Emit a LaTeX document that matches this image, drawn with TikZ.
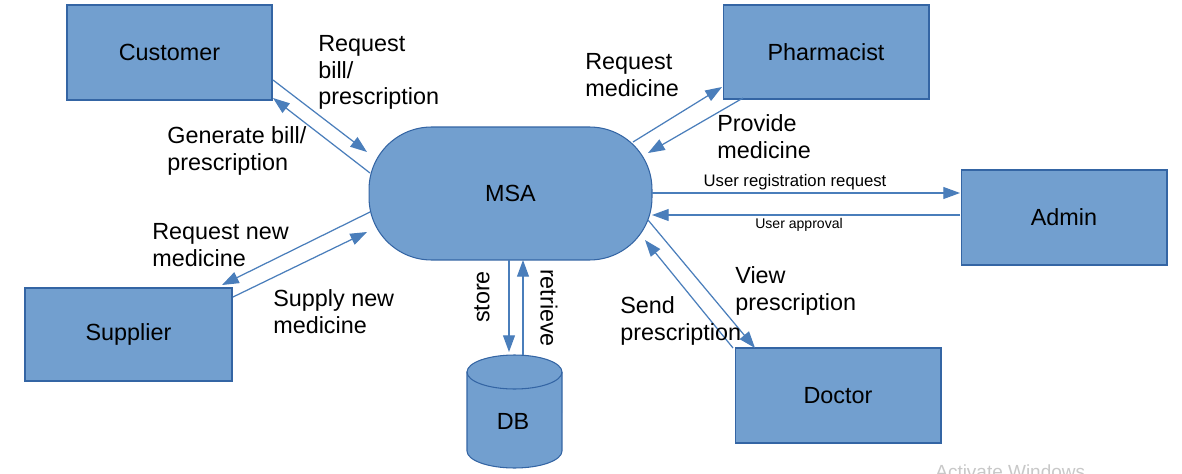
\documentclass[tikz,border=0pt]{standalone}
\usepackage{fontspec}
\setmainfont{Liberation Sans}
\usetikzlibrary{arrows.meta}
\definecolor{boxfill}{HTML}{729FCF}
\definecolor{boxline}{HTML}{3465A4}
\definecolor{arrowcol}{HTML}{4A7EBB}
\definecolor{wmgray}{HTML}{C8C8C8}
\tikzset{
  entity/.style={draw=boxline, fill=boxfill, line width=0.6pt, inner sep=0pt,
    font=\fontsize{13.3}{15.3}\selectfont},
  flow/.style={draw=arrowcol, line width=0.7pt, -{Triangle[length=9.5pt,width=6.8pt]}},
  lbl/.style={align=left, anchor=base west, inner sep=0pt,
    font=\fontsize{13.3}{15.3}\selectfont},
}
\begin{document}
\begin{tikzpicture}[x=0.02cm, y=-0.02cm]
\clip (0,0) rectangle (1182,473);
\fill[white] (0,0) rectangle (1182,473);

% entities
\node[entity, minimum width=4.10cm, minimum height=1.90cm] (cust) at (169.5,52.5) {Customer};
\node[entity, minimum width=4.12cm, minimum height=1.88cm] (pharm) at (826,52) {Pharmacist};
\node[entity, minimum width=4.12cm, minimum height=1.90cm] (admin) at (1064,217.5) {Admin};
\node[entity, minimum width=4.14cm, minimum height=1.86cm] (supp) at (128.5,334.5) {Supplier};
\node[entity, minimum width=4.12cm, minimum height=1.90cm] (doc) at (838,395.5) {Doctor};
\node[entity, minimum width=5.66cm, minimum height=2.66cm, rounded corners=1.25cm] (msa) at (510.5,193.5) {MSA};

% database cylinder
\path[draw=boxline, fill=boxfill, line width=0.6pt]
  (467,372) -- (467,451) arc[start angle=180, end angle=360, x radius=0.95cm, y radius=0.34cm]
  -- (562,372) arc[start angle=0, end angle=180, x radius=0.95cm, y radius=0.34cm] -- cycle;
\draw[boxline, line width=0.6pt] (467,372) arc[start angle=180, end angle=360, x radius=0.95cm, y radius=0.34cm];
\node[font=\fontsize{13.3}{15.3}\selectfont, inner sep=0pt] (db) at (513,421) {DB};

% connector end points
\coordinate (c1s) at (273,80);  \coordinate (c1e) at (367,152);
\coordinate (c2s) at (370,173); \coordinate (c2e) at (273,98);
\coordinate (p1s) at (633,142); \coordinate (p1e) at (722,87);
\coordinate (p2s) at (743,98);  \coordinate (p2e) at (648,153);
\coordinate (a1s) at (652,193); \coordinate (a1e) at (960,193);
\coordinate (a2s) at (960,215); \coordinate (a2e) at (652,215);
\coordinate (s1s) at (370,212); \coordinate (s1e) at (222,285);
\coordinate (s2s) at (233,297); \coordinate (s2e) at (367,232);
\coordinate (d1s) at (509,260); \coordinate (d1e) at (509,352);
\coordinate (d2s) at (523,355); \coordinate (d2e) at (523,260);
\coordinate (o1s) at (648,220); \coordinate (o1e) at (755,348);
\coordinate (o2s) at (733,348); \coordinate (o2e) at (645,240);

\draw[flow] (c1s) -- (c1e);
\draw[flow] (c2s) -- (c2e);
\draw[flow] (p1s) -- (p1e);
\draw[flow] (p2s) -- (p2e);
\draw[flow] (a1s) -- (a1e);
\draw[flow] (a2s) -- (a2e);
\draw[flow] (s1s) -- (s1e);
\draw[flow] (s2s) -- (s2e);
\draw[flow] (d1s) -- (d1e);
\draw[flow] (d2s) -- (d2e);
\draw[flow] (o1s) -- (o1e);
\draw[flow] (o2s) -- (o2e);

% labels (anchor at baseline of last line)
\node[lbl] (l1) at (318,105) {Request\\bill/\\prescription};
\node[lbl] (l2) at (167,170) {Generate bill/\\prescription};
\node[lbl] (l3) at (585,96) {Request\\medicine};
\node[lbl] (l4) at (717,158) {Provide\\medicine};
\node[inner sep=0pt, font=\fontsize{9.5}{11}\selectfont] (l5) at (795,182) {User registration request};
\node[inner sep=0pt, font=\fontsize{8}{10}\selectfont] (l6) at (799,225) {User approval};
\node[lbl] (l7) at (152,266) {Request new\\medicine};
\node[lbl] (l8) at (273,333) {Supply new\\medicine};
\node[inner sep=0pt, rotate=90, font=\fontsize{13.3}{15.3}\selectfont] (l9) at (482,297) {store};
\node[inner sep=0pt, rotate=-90, font=\fontsize{13.3}{15.3}\selectfont] (l10) at (549,308) {retrieve};
\node[lbl] (l11) at (735,310) {View\\prescription};
\node[lbl] (l12) at (620,340) {Send\\prescription};

% watermark
\node[anchor=base west, inner sep=0pt, text=wmgray, font=\fontsize{10.8}{13}\selectfont] (wm) at (935,478) {Activate Windows};
\end{tikzpicture}
\end{document}
